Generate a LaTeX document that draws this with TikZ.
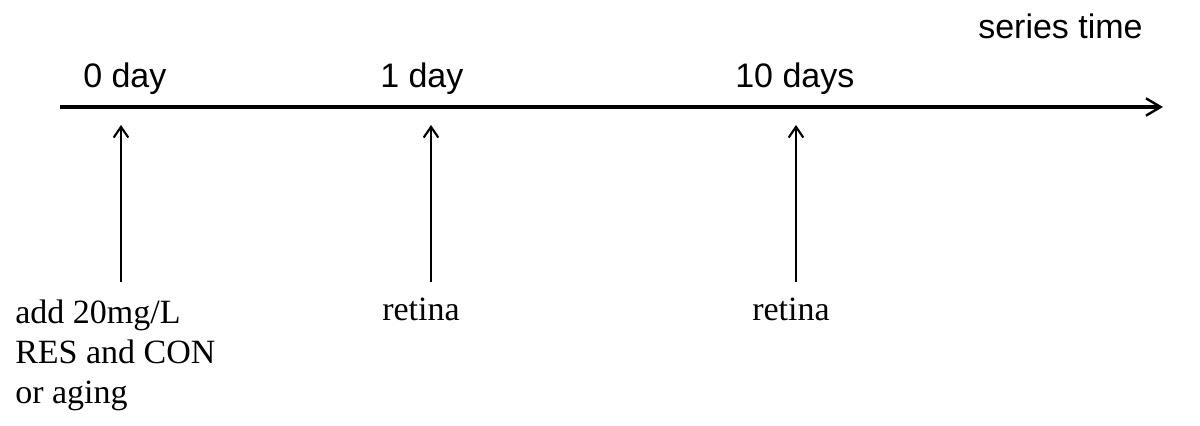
\documentclass[tikz,border=0pt]{standalone}
\usepackage{fontspec}
\setmainfont{Liberation Serif}
\setsansfont{Liberation Sans}
\usetikzlibrary{arrows.meta}
\begin{document}
\begin{tikzpicture}[x=0.75pt,y=-0.75pt,
  lbl/.style={font=\sffamily\fontsize{25.5}{30}\selectfont, inner sep=0pt, anchor=base west},
  note/.style={font=\rmfamily\fontsize{25.5}{30}\selectfont, inner sep=0pt, anchor=base west, align=left},
  axis/.style={line width=2.5pt, -{Straight Barb[length=11pt,width=13pt,line width=1.8pt]}},
  tickarrow/.style={line width=1.7pt, -{Straight Barb[length=8pt,width=11pt,line width=1.6pt]}}]
\useasboundingbox (0,0) rectangle (1200,425);
\coordinate (a0) at (60,107);
\coordinate (a1) at (1163,107);
\draw[axis] (a0) -- (a1);
\node[lbl] (t0) at (83,87) {0 day};
\node[lbl] (t1) at (380,87) {1 day};
\node[lbl] (t10) at (735,87) {10 days};
\node[lbl] (ts) at (978,38) {series time};
\coordinate (b0) at (121,282); \coordinate (e0) at (121,125);
\coordinate (b1) at (431,282); \coordinate (e1) at (431,125);
\coordinate (b2) at (796,282); \coordinate (e2) at (796,125);
\draw[tickarrow] (b0) -- (e0);
\draw[tickarrow] (b1) -- (e1);
\draw[tickarrow] (b2) -- (e2);
\node[note] (n0) at (15,403) {add 20mg/L\\RES and CON\\or aging};
\node[note] (n1) at (382,320) {retina};
\node[note] (n2) at (752,320) {retina};
\end{tikzpicture}
\end{document}
